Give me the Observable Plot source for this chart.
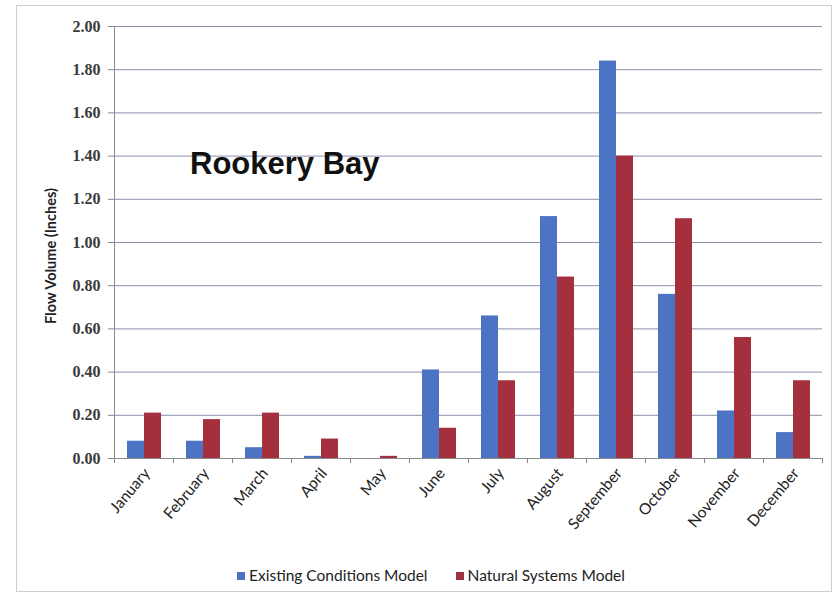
<!DOCTYPE html>
<html>
<head>
<meta charset="utf-8">
<script src="https://cdn.jsdelivr.net/npm/d3@7"></script>
<script src="https://cdn.jsdelivr.net/npm/@observablehq/plot@0.6"></script>
<style>
  html, body { margin: 0; padding: 0; background: #fff; }
  #wrap { position: relative; width: 836px; height: 599px; overflow: hidden; }
  #border { position: absolute; left: 16px; top: 5px; width: 816px; height: 587px;
            border: 1px solid #cfcfcf; box-sizing: border-box; }
  #chart { position: absolute; left: 0; top: 0; }
  #title { position: absolute; left: 190px; top: 146px; font: bold 31px "Liberation Sans", Arial, sans-serif;
           color: #111; white-space: nowrap; }
  #ylabel { position: absolute; left: 50px; top: 256px; transform: translate(-50%, -50%) rotate(-90deg);
            font: bold 14.5px Lato, "Noto Sans", sans-serif; color: #222; white-space: nowrap; }
  #legend { position: absolute; left: 13px; width: 836px; top: 566px; text-align: center;
            font: 15.5px Lato, "Noto Sans", sans-serif; color: #222; white-space: nowrap; }
  #legend span.item { display: inline-block; margin: 0 14px; }
  #legend span.sw { display: inline-block; width: 8px; height: 8px; margin-right: 4px; vertical-align: 1px; }
</style>
</head>
<body>
<div id="wrap">
  <div id="border"></div>
  <div id="chart"></div>
  <div id="title"></div>
  <div id="ylabel"></div>
  <div id="legend"></div>
</div>
<script>
// Monthly flow volume (inches) at Rookery Bay for the two models
const months = ["January", "February", "March", "April", "May", "June",
                "July", "August", "September", "October", "November", "December"];
const existingConditions = [0.08, 0.08, 0.05, 0.01, 0.00, 0.41, 0.66, 1.12, 1.84, 0.76, 0.22, 0.12];
const naturalSystems     = [0.21, 0.18, 0.21, 0.09, 0.01, 0.14, 0.36, 0.84, 1.40, 1.11, 0.56, 0.36];
const seriesNames = ["Existing Conditions Model", "Natural Systems Model"];
const seriesColors = ["#4d73c4", "#a3303c"];
const yTicks = [0, 0.2, 0.4, 0.6, 0.8, 1.0, 1.2, 1.4, 1.6, 1.8, 2.0];
const titleText = "Rookery Bay";
const yLabelText = "Flow Volume (Inches)";

// Long-format table for grouped bars
const table = months.flatMap((m, i) => [
  {month: m, series: seriesNames[0], value: existingConditions[i]},
  {month: m, series: seriesNames[1], value: naturalSystems[i]}
]);

const width = 836, height = 548;
const marginLeft = 114, marginRight = 14, marginTop = 26, marginBottom = 90;
const step = (width - marginLeft - marginRight) / months.length;
const fmt = d3.format(".2f");

const chart = Plot.plot({
  width, height, marginLeft, marginRight, marginTop, marginBottom,
  style: {background: "transparent", overflow: "visible"},
  fx: {domain: months, padding: 0, label: null, axis: null},
  x: {domain: seriesNames, paddingInner: 0, paddingOuter: 0.735, axis: null},
  y: {domain: [0, 2], label: null},
  color: {domain: seriesNames, range: seriesColors},
  marks: [
    Plot.gridY(yTicks, {stroke: "#8a90ad", strokeOpacity: 1, strokeWidth: 1}),
    Plot.axisY(yTicks, {
      tickSize: 6, tickPadding: 8, tickFormat: fmt, label: null, stroke: "#888",
      fontFamily: "Liberation Serif, serif", fontWeight: "bold", fontSize: 16, fill: "#3a3a3a"
    }),
    Plot.barY(table, {fx: "month", x: "series", y: "value", fill: "series"}),
    Plot.ruleY([0], {stroke: "#8a8a8a"}),
    // vertical axis line on the left edge of the first month band
    Plot.ruleX([months[0]], {fx: d => d, x: null, y1: 0, y2: 2, dx: -step / 2, stroke: "#8a8a8a"}),
    // tick marks at month boundaries
    Plot.axisFx({anchor: "bottom", tickSize: 5, tickFormat: () => "", dx: -step / 2, label: null, stroke: "#8a8a8a"}),
    Plot.axisFx([months[months.length - 1]], {anchor: "bottom", tickSize: 5, tickFormat: () => "", dx: step / 2, label: null, stroke: "#8a8a8a"}),
    // rotated month labels
    Plot.axisFx({
      anchor: "bottom", tickSize: 0, tickRotate: -50, tickPadding: 12, label: null, dx: 3,
      fontFamily: "Lato, Noto Sans, sans-serif", fontSize: 15.5, fill: "#222"
    })
  ]
});
document.getElementById("chart").appendChild(chart);

document.getElementById("title").textContent = titleText;
document.getElementById("ylabel").textContent = yLabelText;
const legend = document.getElementById("legend");
seriesNames.forEach((name, i) => {
  const item = document.createElement("span");
  item.className = "item";
  const sw = document.createElement("span");
  sw.className = "sw";
  sw.style.background = seriesColors[i];
  item.appendChild(sw);
  item.appendChild(document.createTextNode(name));
  legend.appendChild(item);
});
</script>
</body>
</html>
